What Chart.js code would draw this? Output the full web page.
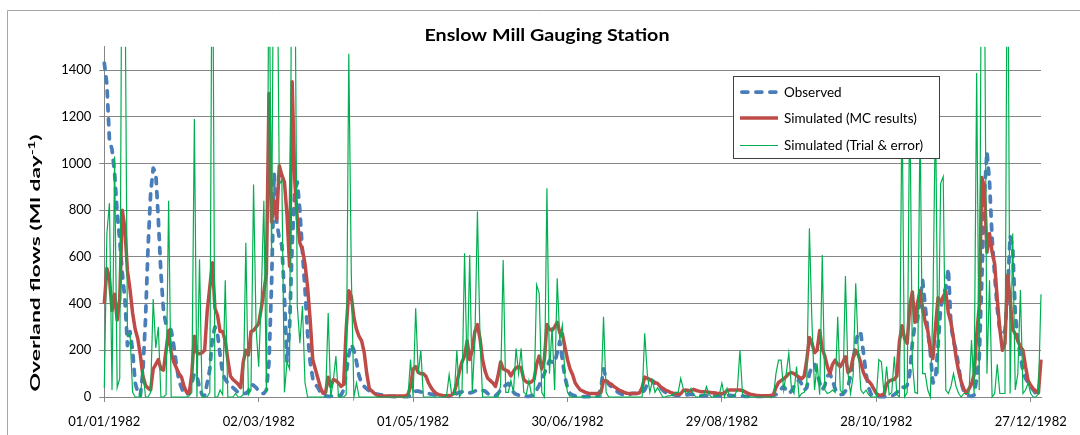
<!DOCTYPE html>
<html>
<head>
<meta charset="utf-8">
<title>Enslow Mill Gauging Station</title>
<script src="https://cdn.jsdelivr.net/npm/chart.js@4.4.1/dist/chart.umd.min.js"></script>
<style>
  html, body { margin: 0; padding: 0; background: #fff; }
  canvas { display: block; }
</style>
</head>
<body>
<canvas id="flows" width="1080" height="435"></canvas>
<script>
// Daily overland flows at Enslow Mill, 1982 (Ml/day), one value per day from 01/01 to 31/12.
const observed = [
  1430,1340,1100,1060,960,790,670,530,420,220,
  280,200,60,20,5,110,330,640,870,980,
  960,760,530,370,310,300,285,220,140,70,
  40,15,10,20,60,100,90,40,10,5,
  60,120,250,300,270,180,100,75,60,50,
  40,30,20,15,15,15,25,55,50,40,
  25,15,15,30,150,480,960,750,680,650,
  430,150,300,650,880,920,800,620,460,270,
  150,80,55,40,20,10,5,3,3,4,
  5,5,8,30,100,180,225,200,150,90,
  60,45,35,25,20,15,12,10,9,8,
  6,3,3,2,2,2,2,2,2,5,
  15,25,25,22,20,18,15,12,10,8,
  7,6,5,4,3,3,8,15,20,22,
  25,22,18,20,25,30,30,28,25,15,
  8,5,5,15,30,45,50,58,40,20,
  12,8,5,3,3,3,5,15,30,50,
  75,100,130,155,150,145,190,238,160,85,
  40,15,8,5,3,2,2,2,2,2,
  2,2,5,40,120,80,55,45,35,25,
  18,12,10,8,10,15,15,15,15,20,
  30,55,75,70,60,50,40,30,20,15,
  12,10,8,7,6,6,8,10,12,10,
  8,6,5,5,6,8,10,8,6,5,
  5,6,8,7,6,5,4,4,4,3,
  3,3,3,3,3,3,3,3,3,3,
  5,10,20,35,45,30,15,25,45,60,
  75,55,30,40,100,130,140,105,60,30,
  50,90,100,70,35,15,10,12,25,45,
  90,160,230,280,270,190,100,40,12,5,
  3,2,2,2,2,3,5,10,20,30,
  44,40,50,100,230,310,330,420,500,390,
  285,190,60,80,220,380,430,470,550,310,
  240,200,130,60,25,10,5,3,8,80,
  170,500,870,1050,920,680,520,380,285,275,
  280,450,690,640,360,245,175,110,80,60,
  44,30,15,8,2
];

const simulatedMC = [
  400,550,510,370,440,330,420,800,720,540,
  460,360,290,250,180,90,50,38,30,120,
  140,160,120,115,200,285,190,150,125,100,
  85,45,20,15,100,260,190,185,190,200,
  370,470,575,380,350,280,280,240,160,90,
  75,65,55,40,150,200,180,280,285,300,
  315,380,450,530,1300,750,840,760,990,950,
  920,780,560,1350,930,760,660,630,570,470,
  330,160,120,80,40,16,20,85,45,75,
  70,60,45,55,290,455,430,340,290,260,
  240,190,100,35,25,15,8,5,4,4,
  4,4,4,4,4,4,4,5,10,45,
  120,130,105,100,100,88,60,40,25,15,
  10,8,5,5,6,8,20,60,110,150,
  175,240,160,200,280,310,250,160,110,80,
  70,60,45,90,150,120,115,110,90,110,
  125,130,125,75,65,60,65,75,140,175,
  120,160,310,290,285,300,320,275,270,215,
  160,120,95,60,44,30,25,20,16,15,
  15,15,16,20,70,70,60,55,45,38,
  30,25,20,16,15,15,15,15,18,40,
  85,80,75,65,62,58,45,38,30,25,
  20,16,15,12,14,28,30,28,25,33,
  28,25,22,22,22,20,18,18,16,15,
  15,15,28,30,30,30,30,30,28,22,
  16,12,10,8,6,5,5,5,5,6,
  10,40,62,70,78,88,100,105,100,92,
  85,78,90,160,255,230,190,200,285,205,
  175,130,100,140,158,140,130,150,172,105,
  115,170,200,180,145,105,80,68,55,35,
  15,8,8,12,55,68,73,75,90,240,
  305,250,230,390,450,320,400,455,380,320,
  285,200,165,300,425,405,430,450,360,320,
  250,170,110,65,35,16,35,55,95,265,
  390,940,900,620,700,620,570,420,290,200,
  230,520,420,290,270,240,215,200,130,70,
  50,35,25,18,160
];

const simulatedTrial = [
  40,700,830,30,1030,40,80,2400,1900,260,
  270,20,0,0,0,120,0,0,20,420,
  210,300,0,0,10,840,0,0,0,0,
  0,0,0,5,20,1190,0,590,0,0,
  0,20,2300,0,0,30,10,500,0,0,
  0,15,0,0,10,660,10,30,910,290,
  130,430,840,20,2000,600,2400,2200,910,930,
  20,150,120,2400,2000,390,230,390,60,0,
  0,0,0,0,0,0,0,360,0,70,
  175,0,0,0,10,1470,520,0,60,0,
  0,0,0,0,0,0,0,0,0,0,
  0,0,0,0,0,0,0,0,0,160,
  0,380,100,200,0,0,0,0,0,0,
  0,0,0,5,95,10,10,200,0,20,
  615,100,608,20,240,794,250,0,0,0,
  0,0,0,0,50,587,20,20,70,20,
  208,100,208,20,10,70,10,0,480,444,
  20,0,894,100,300,30,508,244,308,90,
  20,0,0,0,0,0,0,0,0,0,
  0,0,0,0,344,20,0,0,0,0,
  0,0,0,0,0,0,0,0,0,0,
  273,100,20,70,20,40,20,0,0,5,
  5,10,20,20,80,35,15,20,37,10,
  0,0,5,10,44,10,0,0,5,10,
  59,0,37,0,0,10,30,201,15,0,
  0,0,0,0,0,0,0,0,0,0,
  0,100,158,158,30,100,187,40,15,130,
  0,15,20,60,722,316,30,144,10,608,
  30,15,20,30,20,344,30,15,518,100,
  15,90,487,200,30,15,30,10,0,0,
  0,160,150,10,130,10,20,173,10,0,
  1300,0,20,1320,150,20,15,1200,100,100,
  30,0,387,1250,100,915,944,30,15,45,
  100,45,15,0,15,15,15,244,15,1387,
  30,2400,1900,100,500,0,15,140,15,15,
  15,2300,15,700,30,100,458,15,30,60,
  15,0,0,15,440
];

// Axis ticks: every 60th day, labelled with its date.
const tickDays = [0, 60, 120, 180, 240, 300, 360];
const tickLabels = ['01/01/1982', '02/03/1982', '01/05/1982', '30/06/1982', '29/08/1982', '28/10/1982', '27/12/1982'];
const yTicks = [0, 200, 400, 600, 800, 1000, 1200, 1400];

const FONT = 'Lato, "Open Sans", "Liberation Sans", sans-serif';
Chart.defaults.font.family = FONT;

const toPoints = arr => arr.map((v, i) => ({ x: i, y: v }));

const seriesClip = { left: 4, top: 0, right: 4, bottom: 4 };

function drawFitted(c, text, x, y, font, width) {
  c.font = font;
  const w = c.measureText(text).width;
  c.save();
  c.translate(x, y);
  c.scale(width / w, 1);
  c.textAlign = 'center';
  c.textBaseline = 'alphabetic';
  c.fillText(text, 0, 0);
  c.restore();
}

function drawAxisTitle(c) {
  const main = 'Overland flows (Ml day', sup = '-1', tail = ')';
  const fMain = 'bold 13px ' + FONT, fSup = 'bold 8.5px ' + FONT;
  c.font = fMain;
  const w1 = c.measureText(main).width, w3 = c.measureText(tail).width;
  c.font = fSup;
  const w2 = c.measureText(sup).width;
  const total = w1 + w2 + w3;
  c.save();
  c.translate(36, 263);
  c.rotate(-Math.PI / 2);
  c.scale(257 / total, 1);
  c.fillStyle = '#000';
  c.textAlign = 'left';
  c.textBaseline = 'alphabetic';
  let x = -total / 2;
  const base = 4;
  c.font = fMain; c.fillText(main, x, base); x += w1;
  c.font = fSup;  c.fillText(sup, x, base - 5); x += w2;
  c.font = fMain; c.fillText(tail, x, base);
  c.restore();
}

function drawLegend(c, chart) {
  const bx = 733.5, by = 76.5, bw = 206, bh = 82;
  c.save();
  c.fillStyle = '#fff';
  c.fillRect(bx, by, bw, bh);
  c.strokeStyle = '#3f3f3f';
  c.lineWidth = 1;
  c.strokeRect(bx, by, bw, bh);
  const rows = [
    { label: 'Observed', y: 92 },
    { label: 'Simulated (MC results)', y: 118 },
    { label: 'Simulated (Trial & error)', y: 145.5 }
  ];
  rows.forEach(r => {
    const ds = chart.data.datasets.find(d => d.label === r.label);
    c.beginPath();
    c.strokeStyle = ds.borderColor;
    c.lineWidth = ds.borderWidth;
    c.setLineDash(ds.borderDash || []);
    c.lineCap = ds.borderCapStyle || 'butt';
    const inset = ds.borderCapStyle === 'round' ? ds.borderWidth / 2 : 0;
    c.moveTo(740 + inset, r.y);
    c.lineTo(778 - inset, r.y);
    c.stroke();
    c.setLineDash([]);
    c.fillStyle = '#000';
    c.font = '13.5px ' + FONT;
    c.textAlign = 'left';
    c.textBaseline = 'middle';
    c.fillText(r.label, 784, r.y + 0.5);
  });
  c.restore();
}

const frame = {
  id: 'frame',
  beforeDraw(chart) {
    const c = chart.ctx;
    c.save();
    c.fillStyle = '#fff';
    c.fillRect(0, 0, chart.width, chart.height);
    c.strokeStyle = '#a6a6a6';
    c.lineWidth = 1;
    c.beginPath();
    c.moveTo(7.5, chart.height);
    c.lineTo(7.5, 10.5);
    c.lineTo(chart.width, 10.5);
    c.stroke();
    c.restore();
  },
  afterDraw(chart) {
    const c = chart.ctx;
    c.save();
    c.fillStyle = '#000';
    drawFitted(c, 'Enslow Mill Gauging Station', 547, 41, 'bold 17px ' + FONT, 245);
    drawAxisTitle(c);
    drawLegend(c, chart);
    c.restore();
  }
};

new Chart(document.getElementById('flows'), {
  type: 'line',
  data: {
    datasets: [
      {
        label: 'Simulated (Trial & error)',
        data: toPoints(simulatedTrial),
        borderColor: '#00b050',
        borderWidth: 1.2,
        clip: seriesClip,
        order: 0
      },
      {
        label: 'Simulated (MC results)',
        data: toPoints(simulatedMC),
        borderColor: '#be4b48',
        borderWidth: 3.5,
        borderJoinStyle: 'round',
        clip: seriesClip,
        order: 1
      },
      {
        label: 'Observed',
        data: toPoints(observed),
        borderColor: '#4a7ebb',
        borderWidth: 3.75,
        borderDash: [6, 8],
        borderCapStyle: 'round',
        borderJoinStyle: 'round',
        clip: seriesClip,
        order: 2
      }
    ]
  },
  options: {
    responsive: false,
    animation: false,
    devicePixelRatio: 1,
    layout: { padding: { left: 0, right: 39, top: 46.7, bottom: 0 } },
    elements: { point: { radius: 0 }, line: { tension: 0, fill: false } },
    plugins: {
      legend: { display: false },
      title: { display: false },
      tooltip: { enabled: false }
    },
    scales: {
      x: {
        type: 'linear',
        min: 0,
        max: 364,
        afterFit(s) { s.height = 38; },
        afterBuildTicks(s) { s.ticks = tickDays.map(v => ({ value: v })); },
        ticks: {
          autoSkip: false,
          maxRotation: 0,
          padding: 12,
          color: '#000',
          font: { size: 13 },
          callback: v => tickLabels[tickDays.indexOf(v)]
        },
        grid: { drawOnChartArea: false, drawTicks: true, tickLength: 5, color: '#868686' },
        border: { color: '#868686' }
      },
      y: {
        min: 0,
        max: 1500,
        afterFit(s) { s.width = 104.3; },
        afterBuildTicks(s) { s.ticks = yTicks.map(v => ({ value: v })); },
        ticks: { padding: 8, color: '#000', font: { size: 13 }, callback: v => String(v) },
        grid: { color: '#868686', drawTicks: true, tickLength: 5 },
        border: { color: '#868686' }
      }
    }
  },
  plugins: [frame]
});
</script>
</body>
</html>
